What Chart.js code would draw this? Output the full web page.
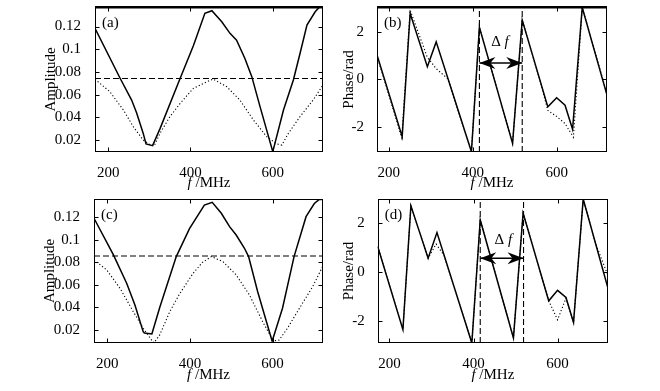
<!DOCTYPE html>
<html>
<head>
<meta charset="utf-8">
<script src="https://cdn.jsdelivr.net/npm/chart.js@4.4.1/dist/chart.umd.min.js"></script>
<style>
  body { margin: 0; background: #fff; }
  #wrap { position: relative; width: 660px; height: 391px; }
  canvas { position: absolute; }
</style>
</head>
<body>
<div id="wrap">
  <canvas id="cA" width="330" height="195" style="left:0;top:0"></canvas>
  <canvas id="cB" width="330" height="195" style="left:330px;top:0"></canvas>
  <canvas id="cC" width="330" height="196" style="left:0;top:195px"></canvas>
  <canvas id="cD" width="330" height="196" style="left:330px;top:195px"></canvas>
</div>
<script>
// tick labels
const xTicks = [200, 400, 600];
const ampTicks = [0.02, 0.04, 0.06, 0.08, 0.1, 0.12];
const phaseTicks = [-2, 0, 2];

// axis ranges
const ampRangeX = [168, 722];
const phaseRangeX = [172, 720];
const ampRangeA = [0.0094, 0.1372];
const ampRangeC = [0.0084, 0.1364];
const phaseRangeB = [-3.04, 3.03];
const phaseRangeD = [-2.91, 3.0];

// (a) amplitude
const fA_solid = [168, 229, 257, 269, 285, 292, 308, 326, 375, 407, 435, 452, 476, 496, 512, 532, 549, 569, 600, 626, 650, 666, 683, 703, 713, 722];
const ampA_solid = [0.1184, 0.0744, 0.0552, 0.044, 0.026, 0.0165, 0.015, 0.030, 0.0744, 0.103, 0.1316, 0.1339, 0.1242, 0.114, 0.108, 0.092, 0.0758, 0.0494, 0.0097, 0.0464, 0.0729, 0.096, 0.1213, 0.133, 0.137, 0.137];
const fA_dot = [168, 204, 237, 261, 285, 302, 312, 326, 350, 375, 407, 435, 455, 488, 520, 553, 585, 610, 622, 638, 666, 698, 722];
const ampA_dot = [0.0735, 0.0626, 0.0464, 0.0317, 0.020, 0.0156, 0.015, 0.0259, 0.0405, 0.0523, 0.0655, 0.0705, 0.0737, 0.067, 0.0552, 0.0376, 0.0229, 0.0165, 0.0155, 0.0259, 0.0405, 0.0552, 0.0685];
const ampA_level = 0.0742;

// (c) amplitude
const fC_solid = [168, 215, 247, 267, 287, 290, 308, 327, 367, 399, 435, 454, 476, 496, 512, 532, 542, 564, 599, 624, 652, 681, 701, 713, 722];
const ampC_solid = [0.1193, 0.0867, 0.0615, 0.0422, 0.0185, 0.0172, 0.0165, 0.040, 0.0852, 0.110, 0.131, 0.1335, 0.1237, 0.1118, 0.1044, 0.0926, 0.0852, 0.054, 0.010, 0.0393, 0.0852, 0.1207, 0.1324, 0.136, 0.136];
const fC_dot = [168, 199, 231, 263, 287, 307, 313, 327, 351, 375, 407, 430, 452, 480, 512, 544, 576, 596, 606, 616, 636, 665, 697, 722];
const ampC_dot = [0.0822, 0.0733, 0.057, 0.0363, 0.0215, 0.0111, 0.0085, 0.0156, 0.036, 0.052, 0.070, 0.080, 0.0852, 0.0807, 0.0689, 0.0511, 0.0274, 0.0141, 0.0105, 0.011, 0.0215, 0.0393, 0.0585, 0.077];
const ampC_level = 0.0858;

// (b) phase
const fB_solid = [172, 232, 251, 292, 313, 397, 416, 495, 518, 579, 600, 620, 638, 661, 720];
const phB_solid = [1.02, -2.40, 2.76, 0.53, 1.57, -3.03, 2.18, -2.68, 2.48, -1.15, -0.77, -1.08, -2.09, 3.01, -0.66];
const fB_dot = [172, 231, 251, 292, 313, 341, 397, 416, 495, 518, 560, 579, 600, 620, 640, 661, 720];
const phB_dot = [0.98, -2.45, 2.9, 0.92, 0.45, 0.02, -3.03, 2.18, -2.68, 2.48, -0.03, -1.3, -1.55, -1.85, -2.42, 3.01, -0.6];
const markB = [416, 518];
const arrowB = 0.69;
const deltaB = [465, 1.57];

// (d) phase
const fD_solid = [172, 232, 251, 292, 313, 396, 416, 495, 518, 579, 600, 620, 638, 661, 720];
const phD_solid = [1.05, -2.36, 2.72, 0.57, 1.62, -2.91, 2.14, -2.7, 2.42, -1.18, -0.75, -1.04, -2.07, 3.0, -0.66];
const fD_dot = [172, 232, 251, 292, 311, 330, 396, 416, 495, 518, 579, 600, 620, 638, 661, 690, 720];
const phD_dot = [1.05, -2.36, 2.72, 0.57, 1.15, 0.68, -2.91, 2.14, -2.7, 2.42, -1.18, -1.96, -1.07, -2.07, 3.0, 1.2, -0.15];
const markD = [416, 519];
const arrowD = 0.57;
const deltaD = [471, 1.32];

Chart.defaults.font.family = '"Liberation Serif", "Times New Roman", serif';
Chart.defaults.font.size = 15;
Chart.defaults.color = '#000';

const SERIF = '"Liberation Serif", "Times New Roman", serif';

function line(fs, vs, style) {
  return Object.assign({
    data: fs.map((f, i) => ({ x: f, y: vs[i] })),
    borderColor: '#000', pointRadius: 0, fill: false, tension: 0
  }, style);
}
const SOLID = { borderWidth: 1.5 };
const DOT = { borderWidth: 1.1, borderDash: [1.2, 2.2] };
const DASH = { borderWidth: 1.1, borderDash: [6, 3] };

// box, inward ticks, panel letter, x label, arrow heads
const frameBox = {
  id: 'frameBox',
  afterDraw(chart, args, o) {
    const ctx = chart.ctx, a = chart.chartArea;
    const sx = chart.scales.x, sy = chart.scales.y;
    const L = 4;
    const seg = (x1, y1, x2, y2) => { ctx.beginPath(); ctx.moveTo(x1, y1); ctx.lineTo(x2, y2); ctx.stroke(); };
    ctx.save();
    ctx.strokeStyle = '#000';
    ctx.fillStyle = '#000';
    ctx.lineWidth = 1;
    const l = Math.round(a.left) + 0.5, r = Math.round(a.right) - 0.5;
    const t = Math.round(a.top) + 0.5, b = Math.round(a.bottom) - 0.5;
    ctx.strokeRect(l, t, r - l, b - t);
    if (o.thickTop) {
      ctx.lineWidth = 2.6;
      seg(l - 0.5, t - 0.3, r + 0.5, t - 0.3);
      ctx.lineWidth = 1;
    }
    sx.ticks.forEach(tk => {
      const p = Math.round(sx.getPixelForValue(tk.value)) + 0.5;
      seg(p, b, p, b - L); seg(p, t, p, t + L);
    });
    sy.ticks.forEach(tk => {
      const p = Math.round(sy.getPixelForValue(tk.value)) + 0.5;
      seg(l, p, l + L, p); seg(r, p, r - L, p);
    });

    ctx.textBaseline = 'middle';
    ctx.textAlign = 'left';
    ctx.font = '15px ' + SERIF;
    ctx.fillText(o.letter, a.left + 7, a.top + 16);

    // f /MHz with italic f
    const cx = (a.left + a.right) / 2, ty = a.bottom + o.xGap;
    ctx.font = 'italic 15px ' + SERIF;
    const w1 = ctx.measureText('f ').width;
    ctx.font = '15px ' + SERIF;
    const w2 = ctx.measureText('/MHz').width;
    let x0 = cx - (w1 + w2) / 2;
    ctx.font = 'italic 15px ' + SERIF;
    ctx.fillText('f', x0, ty);
    ctx.font = '15px ' + SERIF;
    ctx.fillText('/MHz', x0 + w1, ty);

    if (o.arrow) {
      const ay = sy.getPixelForValue(o.arrow.y);
      const p1 = sx.getPixelForValue(o.arrow.x[0]);
      const p2 = sx.getPixelForValue(o.arrow.x[1]);
      const head = (tip, dir) => {
        const HL = 16, HW = 6, BK = 5;
        ctx.beginPath();
        ctx.moveTo(tip, ay);
        ctx.lineTo(tip + dir * HL, ay - HW);
        ctx.lineTo(tip + dir * (HL - BK), ay);
        ctx.lineTo(tip + dir * HL, ay + HW);
        ctx.closePath();
        ctx.fill();
      };
      head(p1, 1);
      head(p2, -1);
      const dx = sx.getPixelForValue(o.delta[0]), dy = sy.getPixelForValue(o.delta[1]);
      ctx.font = '15px ' + SERIF;
      const wd = ctx.measureText('\u0394 ').width;
      ctx.font = 'italic 15px ' + SERIF;
      const wf = ctx.measureText('f').width;
      const s = dx - (wd + wf) / 2;
      ctx.font = '15px ' + SERIF;
      ctx.fillText('\u0394', s, dy);
      ctx.font = 'italic 15px ' + SERIF;
      ctx.fillText('f', s + wd, dy);
    }
    ctx.restore();
  }
};

function panel(id, p) {
  return new Chart(document.getElementById(id), {
    type: 'line',
    data: { datasets: p.datasets },
    plugins: [frameBox],
    options: {
      responsive: false,
      animation: false,
      events: [],
      layout: { padding: p.pad },
      plugins: { legend: { display: false }, tooltip: { enabled: false }, frameBox: p.box },
      scales: {
        x: {
          type: 'linear', min: p.xr[0], max: p.xr[1],
          grid: { display: false }, border: { display: false },
          ticks: { padding: 4, maxRotation: 0, autoSkip: false },
          afterBuildTicks: s => { s.ticks = xTicks.map(v => ({ value: v })); },
          afterFit: s => { s.height = p.xh; s.paddingLeft = 0; s.paddingRight = 0; }
        },
        y: {
          type: 'linear', min: p.yr[0], max: p.yr[1],
          grid: { display: false }, border: { display: false },
          ticks: { padding: p.ytp, callback: v => String(+v.toFixed(2)) },
          title: { display: true, text: p.ytitle, padding: 0, font: { size: 15 } },
          afterBuildTicks: s => { s.ticks = p.yt.map(v => ({ value: v })); },
          afterFit: s => { s.width = p.yw; s.paddingTop = 0; s.paddingBottom = 0; }
        }
      }
    }
  });
}

panel('cA', {
  xr: ampRangeX, yr: ampRangeA, yt: ampTicks, ytitle: 'Amplitude', ytp: 6,
  pad: { left: 41.6, right: 7, top: 7, bottom: 0 }, yw: 53.4, xh: 43,
  box: { letter: '(a)', xGap: 31, thickTop: true },
  datasets: [
    line(fA_solid, ampA_solid, SOLID),
    line(fA_dot, ampA_dot, DOT),
    line(ampRangeX, [ampA_level, ampA_level], DASH)
  ]
});

panel('cB', {
  xr: phaseRangeX, yr: phaseRangeB, yt: phaseTicks, ytitle: 'Phase/rad', ytp: 5,
  pad: { left: 9.9, right: 53, top: 7, bottom: 0 }, yw: 37.1, xh: 43,
  box: { letter: '(b)', xGap: 31, thickTop: true, arrow: { x: markB, y: arrowB }, delta: deltaB },
  datasets: [
    line(fB_solid, phB_solid, SOLID),
    line(fB_dot, phB_dot, DOT),
    line([markB[0], markB[0]], phaseRangeB, DASH),
    line([markB[1], markB[1]], phaseRangeB, DASH),
    line(markB, [arrowB, arrowB], { borderWidth: 1.5 })
  ]
});

panel('cC', {
  xr: ampRangeX, yr: ampRangeC, yt: ampTicks, ytitle: 'Amplitude', ytp: 6,
  pad: { left: 41, right: 7, top: 4, bottom: 0 }, yw: 53, xh: 48,
  box: { letter: '(c)', xGap: 32 },
  datasets: [
    line(fC_solid, ampC_solid, SOLID),
    line(fC_dot, ampC_dot, DOT),
    line(ampRangeX, [ampC_level, ampC_level], DASH)
  ]
});

panel('cD', {
  xr: phaseRangeX, yr: phaseRangeD, yt: phaseTicks, ytitle: 'Phase/rad', ytp: 5,
  pad: { left: 9.9, right: 52, top: 4, bottom: 0 }, yw: 37.8, xh: 48,
  box: { letter: '(d)', xGap: 32, arrow: { x: markD, y: arrowD }, delta: deltaD },
  datasets: [
    line(fD_solid, phD_solid, SOLID),
    line(fD_dot, phD_dot, DOT),
    line([markD[0], markD[0]], phaseRangeD, DASH),
    line([markD[1], markD[1]], phaseRangeD, DASH),
    line(markD, [arrowD, arrowD], { borderWidth: 1.5 })
  ]
});
</script>
</body>
</html>
